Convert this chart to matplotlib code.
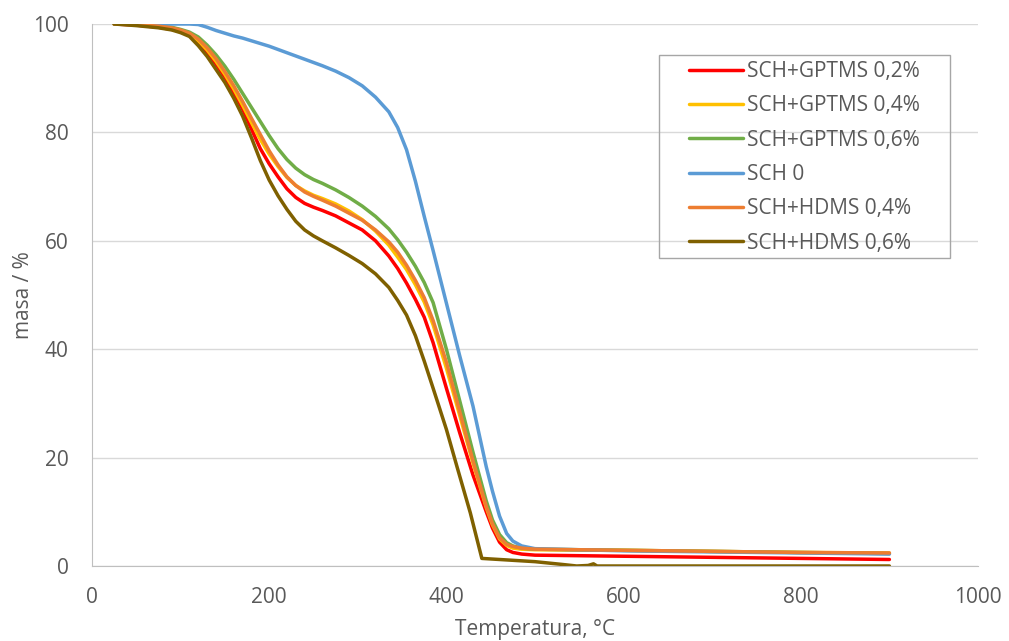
import numpy as np
from matplotlib import pyplot as plt
from matplotlib.patches import Rectangle

plt.rcParams['font.family'] = ['Open Sans', 'DejaVu Sans']

temp = [25, 50, 75, 90, 100, 110, 120, 130, 140, 150, 160, 170, 180, 190, 200, 210, 220, 230, 240, 250,
        260, 275, 290, 305, 320, 335, 345, 355, 365, 375, 385, 400, 415, 430, 445, 452, 460, 468, 475, 485,
        500, 600, 700, 800, 900]

gptms_02 = [100, 99.8, 99.4, 99.0, 98.6, 97.9, 96.6, 94.8, 92.6, 90.2, 87.4, 84.3, 80.6, 77.0, 74.2, 71.8,
            69.6, 68.0, 66.9, 66.2, 65.6, 64.6, 63.3, 62.0, 60.0, 57.2, 54.9, 52.2, 49.2, 45.9, 41.2, 32.8,
            24.6, 16.8, 10.0, 7.0, 4.4, 3.0, 2.5, 2.2, 2.0, 1.8, 1.6, 1.4, 1.2]
gptms_04 = [100, 99.9, 99.5, 99.2, 98.8, 98.1, 96.9, 95.2, 93.1, 90.7, 88.0, 85.0, 81.8, 78.7, 76.0, 73.7,
            71.7, 70.2, 69.2, 68.4, 67.8, 66.8, 65.5, 63.9, 61.8, 59.2, 57.0, 54.7, 51.9, 48.7, 44.5, 36.5,
            27.8, 19.0, 10.8, 7.6, 5.0, 3.8, 3.3, 3.1, 3.0, 2.9, 2.7, 2.5, 2.4]
gptms_06 = [100, 99.9, 99.6, 99.4, 99.0, 98.5, 97.6, 96.1, 94.3, 92.2, 89.8, 87.2, 84.6, 82.0, 79.4, 77.0,
            75.0, 73.4, 72.2, 71.3, 70.6, 69.4, 68.0, 66.4, 64.5, 62.2, 60.2, 57.9, 55.3, 52.3, 48.6, 40.0,
            30.5, 21.0, 12.0, 8.5, 5.8, 4.3, 3.7, 3.3, 3.1, 2.9, 2.7, 2.5, 2.3]
sch_0 = [100, 100, 100, 100, 100, 100, 99.9, 99.4, 98.8, 98.3, 97.8, 97.4, 96.9, 96.4, 95.9, 95.3,
         94.7, 94.1, 93.5, 92.9, 92.3, 91.3, 90.1, 88.6, 86.5, 83.8, 80.9, 76.8, 71.0, 64.5, 58.2, 48.5,
         38.8, 29.5, 18.3, 13.8, 9.2, 6.0, 4.6, 3.7, 3.2, 2.8, 2.6, 2.4, 2.2]
hdms_04 = [100, 99.9, 99.6, 99.3, 98.9, 98.3, 97.2, 95.6, 93.6, 91.2, 88.6, 85.7, 82.6, 79.6, 76.6, 74.0,
           71.8, 70.2, 69.0, 68.2, 67.5, 66.4, 65.1, 63.8, 62.0, 59.8, 57.9, 55.5, 52.7, 49.5, 45.3, 37.6,
           28.5, 19.4, 11.0, 7.8, 5.2, 4.0, 3.6, 3.3, 3.1, 2.9, 2.7, 2.5, 2.4]

temp_h06 = [25, 50, 75, 90, 100, 110, 120, 130, 140, 150, 160, 170, 180, 190, 200, 210, 220, 230, 240, 250,
            260, 275, 290, 305, 320, 335, 345, 355, 365, 375, 385, 400, 412, 427, 440, 470, 500, 530, 547,
            560, 566, 570, 700, 900]
hdms_06 = [100, 99.7, 99.3, 98.9, 98.4, 97.7, 96.0, 94.0, 91.6, 89.2, 86.3, 83.0, 79.0, 74.8, 71.2, 68.3,
           65.8, 63.6, 62.0, 60.9, 60.0, 58.7, 57.3, 55.8, 53.9, 51.4, 49.0, 46.3, 42.5, 37.8, 32.8, 25.2,
           18.3, 9.8, 1.4, 1.1, 0.8, 0.3, 0.0, 0.1, 0.4, 0.0, 0.0, 0.0]

labels = ['SCH+GPTMS 0,2%', 'SCH+GPTMS 0,4%', 'SCH+GPTMS 0,6%', 'SCH 0', 'SCH+HDMS 0,4%', 'SCH+HDMS 0,6%']
colors = ['#FF0000', '#FFC000', '#70AD47', '#5B9BD5', '#ED7D31', '#7F6000']

W, H = 1009, 641
fig = plt.figure(figsize=(W / 100, H / 100), dpi=100)
ax = fig.add_axes([92 / W, 1 - 566 / H, 886 / W, 542 / H])

series = [(temp, gptms_02), (temp, gptms_04), (temp, gptms_06),
          (temp, sch_0), (temp, hdms_04), (temp_h06, hdms_06)]
for (x, y), lab, c in zip(series, labels, colors):
    ax.plot(x, y, color=c, lw=2.5, label=lab, solid_capstyle='round', solid_joinstyle='round')

ax.set_xlim(0, 1000)
ax.set_ylim(0, 100)
ax.set_xticks(np.arange(0, 1001, 200))
ax.set_yticks(np.arange(0, 101, 20))
ax.yaxis.grid(True, color='#D9D9D9', lw=1)
ax.set_axisbelow(True)
for s in ['top', 'right']:
    ax.spines[s].set_visible(False)
ax.spines['left'].set_color('#BFBFBF')
ax.spines['bottom'].set_color('#BFBFBF')
ax.tick_params(length=0, labelsize=15, colors='#595959')
ax.tick_params(axis='x', pad=15)
ax.tick_params(axis='y', pad=17)

ax.set_xlabel('Temperatura, °C', fontsize=15, color='#595959')
ax.set_ylabel('masa / %', fontsize=15, color='#595959')
ax.xaxis.set_label_coords(0.5, -0.098)
ax.yaxis.set_label_coords(-0.066, 0.5)

# legend frame drawn separately so the inner padding can match
fig.patches.append(Rectangle((659 / W, 1 - 258 / H), 291 / W, 203 / H, transform=fig.transFigure,
                             fill=False, edgecolor='#A6A6A6', lw=1, zorder=5))
leg = ax.legend(loc='upper left', bbox_to_anchor=(689 / W, 1 - 61 / H), bbox_transform=fig.transFigure,
                fontsize=15, frameon=False, handlelength=2.6, handletextpad=0.2,
                labelspacing=0.64, borderpad=0, borderaxespad=0)
for t in leg.get_texts():
    t.set_color('#595959')

fig.savefig('out.png', dpi=100)
